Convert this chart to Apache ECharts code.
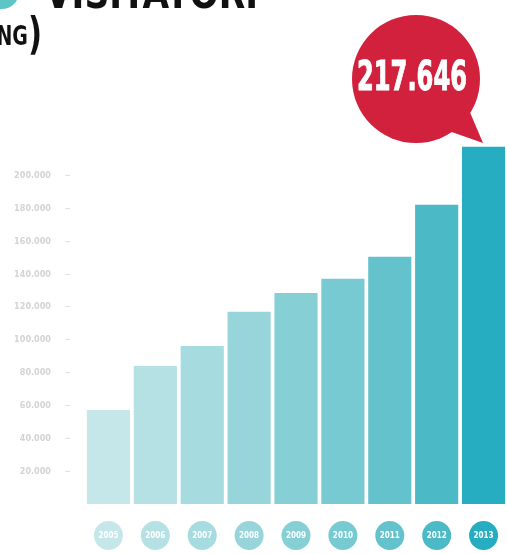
<!DOCTYPE html>
<html>
<head>
<meta charset="utf-8">
<script src="https://cdn.jsdelivr.net/npm/echarts@6/dist/echarts.min.js"></script>
<style>
html,body{margin:0;padding:0;background:#fff;}
#chart{width:507px;height:554px;}
</style>
</head>
<body>
<div id="chart"></div>
<script>
const years = ['2005','2006','2007','2008','2009','2010','2011','2012','2013'];
const visitors = [57300, 84100, 96300, 117100, 128600, 137200, 150600, 182300, 217646];
const barColors = ['#c6e7ea','#b5e1e5','#a6dbdf','#97d5da','#86cfd5','#77cad1','#63c2cc','#4cb9c6','#27adc2'];
const yTicks = [20000,40000,60000,80000,100000,120000,140000,160000,180000,200000];

const FONT = '"DejaVu Sans Condensed","DejaVu Sans",sans-serif';
const fmt = v => Math.round(v).toString().replace(/\B(?=(\d{3})+(?!\d))/g, '.');

const ctx = document.createElement('canvas').getContext('2d');
function textWidth(t, size) {
  ctx.font = 'bold ' + size + 'px ' + FONT;
  return ctx.measureText(t).width;
}

const chart = echarts.init(document.getElementById('chart'), null, {renderer:'canvas'});

const rich = {};
barColors.forEach((c,i)=>{
  rich['c'+i] = {
    backgroundColor: c, width: 29, height: 29, borderRadius: 14.5,
    align: 'center', color: '#fff', fontSize: 8, fontWeight: 'bold',
    fontFamily: FONT, lineHeight: 29
  };
});

const titleText = 'VISITATORI';
const titleSize = 42;
const titleScale = 213 / textWidth(titleText, titleSize);

const numText = fmt(visitors[visitors.length-1]);
const numSize = 40;
const numScale = 110 / textWidth(numText, numSize);

const option = {
  backgroundColor: '#ffffff',
  animation: false,
  grid: {left: 85, right: 0, top: 110, bottom: 50},
  xAxis: {
    type: 'category',
    data: years,
    axisLine: {show: false},
    axisTick: {show: false},
    axisLabel: {
      margin: 17,
      interval: 0,
      formatter: (v, i) => '{c' + i + '|' + v + '}',
      rich: rich
    }
  },
  yAxis: {
    type: 'value',
    min: 0, max: 240000, interval: 20000,
    splitLine: {show: false},
    axisLine: {show: false},
    axisTick: {show: false},
    axisLabel: {
      margin: 15,
      formatter: v => yTicks.indexOf(v) >= 0 ? '{a|' + fmt(v) + '}{b|–}' : '',
      rich: {
        a: {color: '#d3d3d3', fontSize: 9, fontFamily: FONT, fontWeight: 'bold', width: 42, align: 'right', padding: [0, 14, 0, 0]},
        b: {color: '#d3d3d3', fontSize: 9}
      }
    }
  },
  series: [{
    type: 'bar',
    data: visitors.map((v,i)=>({value: v, itemStyle: {color: barColors[i]}})),
    barCategoryGap: '8%'
  }],
  graphic: [
    {type: 'circle', shape: {cx: 2, cy: -8, r: 17}, style: {fill: '#5ec5c6'}},
    {type: 'text', x: 45, y: 18, scaleX: titleScale, style: {
      text: titleText, fill: '#111', fontSize: titleSize, fontWeight: 'bold',
      fontFamily: FONT, align: 'left', verticalAlign: 'bottom', lineHeight: titleSize
    }},
    {type: 'text', x: 42, y: 38, scaleX: 0.78, style: {
      text: '{a|(TREND GROWING}{b|)}', align: 'right', verticalAlign: 'middle',
      rich: {
        a: {fill: '#111', fontSize: 27, fontWeight: 'bold', fontFamily: FONT},
        b: {fill: '#111', fontSize: 44, fontWeight: 'bold', fontFamily: FONT}
      }
    }},
    {type: 'polygon', shape: {points: [[446,130],[469,110],[483,143]]}, style: {fill: '#d2213d'}},
    {type: 'circle', shape: {cx: 416, cy: 79, r: 64}, style: {fill: '#d2213d'}},
    {type: 'text', x: 412, y: 80, scaleX: numScale, style: {
      text: numText, fill: '#fff', fontSize: numSize, fontWeight: 'bold',
      align: 'center', verticalAlign: 'middle', fontFamily: FONT,
      stroke: '#fff', lineWidth: 1
    }}
  ]
};
chart.setOption(option);
</script>
</body>
</html>
